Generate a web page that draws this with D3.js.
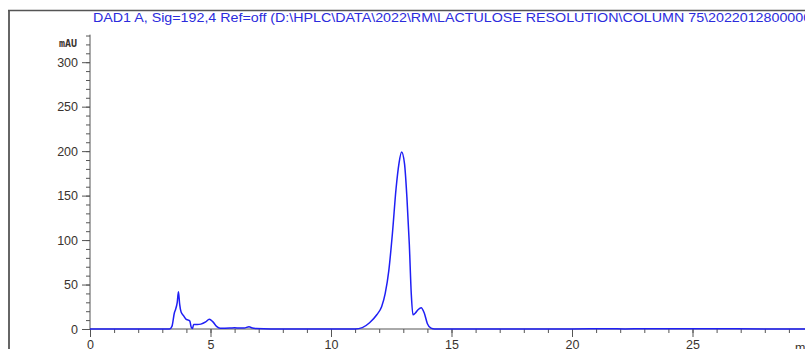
<!DOCTYPE html>
<html>
<head>
<meta charset="utf-8">
<script src="https://cdn.jsdelivr.net/npm/d3@7"></script>
<style>
  body { margin: 0; background: #fff; }
  svg { display: block; }
  .axis path, .axis line { stroke: #555; }
  .axis text { fill: #3a332e; font-family: "Liberation Sans", Arial, sans-serif; }
</style>
</head>
<body>
<svg id="chart" width="805" height="349"></svg>
<script>
// chromatogram trace (time in min, signal in mAU)
var times = [0, 3.3, 3.4, 3.5, 3.55, 3.62, 3.67, 3.72, 3.78, 3.88, 3.98, 4.08, 4.14, 4.2, 4.25, 4.3,
  4.45, 4.6, 4.8, 4.95, 5.1, 5.25, 5.4, 5.8, 6.0, 6.2, 6.4, 6.6, 6.7, 6.9, 7.5,
  11.0, 11.3, 11.6, 11.9, 12.1, 12.25, 12.4, 12.55, 12.7, 12.82, 12.93, 13.05, 13.15, 13.25,
  13.33, 13.4, 13.5, 13.62, 13.74, 13.87, 14.0, 14.15, 14.3, 20, 21.5, 22.2, 23.0, 30];
var signal = [0, 0, 3, 18, 22, 30, 42, 28, 19, 15, 11, 10, 9, 2, 0.5, 5,
  5, 5.5, 8, 11, 8, 3, 0.8, 1, 1.5, 1, 1.2, 2.5, 1.5, 0.5, 0,
  0, 1.5, 7, 16, 25, 40, 66, 108, 158, 186, 199, 186, 148, 95,
  40, 16, 18, 22, 24, 18, 6, 1, 0, 0, 0.3, 0, 0.3, 0];

var xMajor = [0, 5, 10, 15, 20, 25];
var yMajor = [0, 50, 100, 150, 200, 250, 300];
var title = "DAD1 A, Sig=192,4 Ref=off (D:\\HPLC\\DATA\\2022\\RM\\LACTULOSE RESOLUTION\\COLUMN 75\\20220128000002.D)";

var svg = d3.select("#chart");

var x = d3.scaleLinear().domain([0, 30]).range([90, 813]);
var y = d3.scaleLinear().domain([0, 300]).range([329, 62.2]);

// frame lines on the left and top
svg.append("line").attr("x1", 9).attr("y1", 10).attr("x2", 9).attr("y2", 349)
    .attr("stroke", "#666").attr("stroke-width", 2);
svg.append("line").attr("x1", 8).attr("y1", 10.5).attr("x2", 805).attr("y2", 10.5)
    .attr("stroke", "#555").attr("stroke-width", 1.5);

// title is drawn a bit wider than the font, like the original print
svg.append("text").attr("transform", "translate(93,22) scale(1.19,1)")
    .attr("fill", "#2b2bdc")
    .style("font-family", "'Liberation Sans', Arial, sans-serif")
    .style("font-size", "12px")
    .text(title);

// minor ticks
var xMinor = d3.range(0, 30, 1);
var yMinor = d3.range(0, 331, 10);
svg.append("g").attr("class", "axis").attr("transform", "translate(0,329)")
    .call(d3.axisBottom(x).tickValues(xMinor).tickSize(4).tickFormat(""))
    .call(function(g){ g.select(".domain").remove(); });
svg.append("g").attr("class", "axis").attr("transform", "translate(90,0)")
    .call(d3.axisLeft(y).tickValues(yMinor).tickSize(4).tickFormat(""))
    .call(function(g){ g.select(".domain").remove(); });

// major ticks with labels
var xAxis = svg.append("g").attr("class", "axis").attr("transform", "translate(0,329)")
    .call(d3.axisBottom(x).tickValues(xMajor).tickSize(8).tickPadding(3).tickSizeOuter(0));
xAxis.selectAll("text").style("font-size", "12.5px");
xAxis.select(".domain").attr("d", "M90,0H805");

var yAxis = svg.append("g").attr("class", "axis").attr("transform", "translate(90,0)")
    .call(d3.axisLeft(y).tickValues(yMajor).tickSize(8).tickPadding(4).tickSizeOuter(0));
yAxis.selectAll("text").style("font-size", "12.5px");
yAxis.select(".domain").attr("d", "M0," + y(331) + "V329");

svg.append("text").attr("x", 77).attr("y", 47).attr("text-anchor", "end")
    .attr("fill", "#3a332e")
    .style("font-family", "'DejaVu Sans Mono', monospace")
    .style("font-size", "10px").style("font-weight", "bold")
    .text("mAU");
svg.append("text").attr("x", 795).attr("y", 352)
    .attr("fill", "#3a332e")
    .style("font-family", "'Liberation Sans', Arial, sans-serif")
    .style("font-size", "12.5px")
    .text("min");

var line = d3.line()
    .x(function(d, i){ return x(times[i]); })
    .y(function(d){ return y(d); })
    .curve(d3.curveMonotoneX);

svg.append("path").datum(signal)
    .attr("d", line)
    .attr("fill", "none")
    .attr("stroke", "#1f1ff5")
    .attr("stroke-width", 1.5);
</script>
</body>
</html>
